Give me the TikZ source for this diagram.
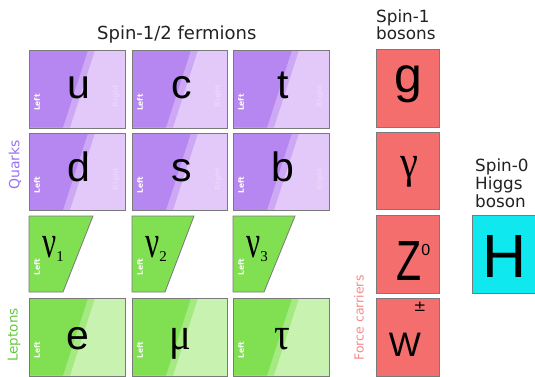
\documentclass[tikz,border=0pt]{standalone}
\usepackage{fontspec}
\setmainfont{DejaVu Sans}
\newfontfamily\letterfont{Liberation Sans}
\newfontfamily\greekfont{Liberation Serif}
\definecolor{qdark}{HTML}{B687F0}
\definecolor{qlight}{HTML}{E3C9FA}
\colorlet{qmid}{qdark!50!qlight}
\definecolor{qfaint}{HTML}{E9D5FB}
\definecolor{ldark}{HTML}{80E052}
\definecolor{llight}{HTML}{C8F2B0}
\colorlet{lmid}{ldark!50!llight}
\definecolor{nugreen}{HTML}{80E052}
\definecolor{bosred}{HTML}{F46E6E}
\definecolor{higgscyan}{HTML}{10E8F0}
\definecolor{boxgray}{HTML}{7A7A7A}
\definecolor{textgray}{HTML}{222222}
\definecolor{quarkcol}{HTML}{9A72F0}
\definecolor{leptoncol}{HTML}{66C840}
\definecolor{forcecol}{HTML}{F48C8C}
\newcommand{\twotone}[5]{%
  \fill[#5light] (#1,#2) rectangle (#3,#4);
  \fill[#5mid] (#1,#2) -- (#1+66,#2) -- (#1+41,#4) -- (#1,#4) -- cycle;
  \fill[#5dark] (#1,#2) -- (#1+59,#2) -- (#1+34,#4) -- (#1,#4) -- cycle;
}
\newcommand{\narrow}[2]{\scalebox{#1}[1]{#2}}
\begin{document}
\begin{tikzpicture}[x=1pt,y=-1pt,
  boxframe/.style={draw=boxgray,line width=0.8pt},
  bigletter/.style={font=\letterfont\fontsize{41}{41}\selectfont, inner sep=0, anchor=base, text=black},
  greekletter/.style={font=\greekfont\fontsize{46}{46}\selectfont, inner sep=0, anchor=base, text=black},
  lefttag/.style={font=\fontsize{7.5}{7.5}\selectfont\bfseries, text=white, rotate=90, inner sep=0},
  righttag/.style={font=\fontsize{7.5}{7.5}\selectfont\bfseries, text=qfaint, rotate=90, inner sep=0},
  header/.style={font=\fontsize{16.8}{16.8}\selectfont, text=textgray, inner sep=0, anchor=base west},
  sidelabel/.style={rotate=90, inner sep=0}
]
\useasboundingbox (0,0) rectangle (535,376);
\fill[white] (0,0) rectangle (535,376);

% headers
\node[header, font=\fontsize{18}{18}\selectfont] (hferm) at (97,39) {Spin-1/2 fermions};
\node[header] (hspin1) at (376,22) {Spin-1};
\node[header] (hbos) at (376,39) {bosons};
\node[header] (hspin0) at (475,171) {Spin-0};
\node[header] (hhiggs) at (475,189) {Higgs};
\node[header] (hboson) at (475,207) {boson};

% side labels
\node[sidelabel, text=quarkcol, font=\fontsize{14}{14}\selectfont] (lquarks) at (15,165) {Quarks};
\node[sidelabel, text=leptoncol, font=\fontsize{13.5}{13.5}\selectfont] (lleptons) at (14,335) {Leptons};
\node[sidelabel, text=forcecol, font=\fontsize{12.5}{12.5}\selectfont] (lforce) at (359,318) {Force carriers};

% quark boxes
\foreach \l/\r/\t/\b/\nm/\ch in {29/125/50/127.5/u/u, 132/227/50/127.5/c/c, 233/329/50/127.5/t/t,
                                 29/125/133/210/d/d, 132/227/133/210/s/s, 233/329/133/210/b/b}{
  \twotone{\l}{\t}{\r}{\b}{q}
  \node[boxframe, anchor=north west, minimum width=\r-\l, minimum height=\b-\t, inner sep=0] (box\nm) at (\l,\t) {};
  \node[bigletter] (sym\nm) at ({(\l+\r)/2+2},\t+48) {\ch};
  \node[lefttag] (left\nm) at (\l+8,\b-25) {Left};
  \node[righttag] (right\nm) at (\r-9,\t+46) {Right};
}

% neutrinos
\foreach \l/\tr/\br/\n in {29/93/63/1, 132/194/165/2, 233/295/264/3}{
  \fill[nugreen] (\l,216) -- (\tr,216) -- (\br,292) -- (\l,292) -- cycle;
  \draw[boxframe] (\l,216) -- (\tr,216) -- (\br,292) -- (\l,292) -- cycle;
  \node[greekletter, anchor=base west] (nu\n) at (\l+13,257) {\narrow{0.68}{ν}\raisebox{-4pt}{\fontsize{15}{15}\selectfont\n}};
  \node[lefttag] (leftnu\n) at (\l+8,267) {Left};
}

% charged leptons
\foreach \l/\r/\nm/\ch/\sty in {29/125/e/e/bigletter, 132/227/mu/\narrow{0.88}{μ}/greekletter, 233/329/tau/\narrow{0.85}{τ}/greekletter}{
  \twotone{\l}{298}{\r}{375.5}{l}
  \node[boxframe, anchor=north west, minimum width=\r-\l, minimum height=77.5, inner sep=0] (box\nm) at (\l,298) {};
  \node[\sty] (sym\nm) at ({(\l+\r)/2+1},349) {\ch};
  \node[lefttag] (left\nm) at (\l+8,350) {Left};
}

% spin-1 bosons
\foreach \t/\b/\nm in {49/127/g, 132/209/gamma, 215/293/z, 298/375.5/w}{
  \node[boxframe, fill=bosred, anchor=north west, minimum width=63, minimum height=\b-\t, inner sep=0] (box\nm) at (376,\t) {};
}
\node[bigletter, font=\letterfont\fontsize{50}{50}\selectfont] (symg) at (408,92) {g};
\node[greekletter] (symgamma) at (409,177) {\narrow{0.88}{γ}};
\node[bigletter, anchor=base west] (symz) at (396,280) {\scalebox{1}[1.38]{Z}\raisebox{25pt}{\fontsize{16}{16}\selectfont 0}};
\node[bigletter, font=\letterfont\fontsize{34}{34}\selectfont] (symw) at (405,356) {W};
\node[inner sep=0, font=\fontsize{15}{15}\selectfont] (symwpm) at (420,307) {±};

% Higgs
\node[boxframe, fill=higgscyan, anchor=north west, minimum width=66, minimum height=78, inner sep=0] (boxh) at (472,215) {};
\node[bigletter, font=\letterfont\fontsize{61}{61}\selectfont] (symh) at (505,277) {H};
\end{tikzpicture}
\end{document}
